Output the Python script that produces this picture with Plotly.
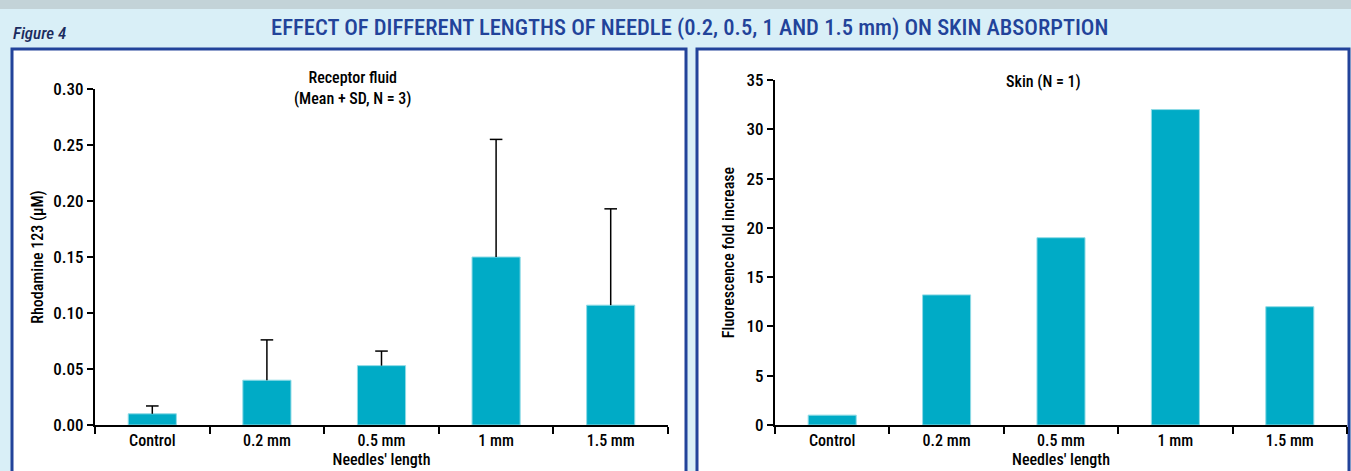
import plotly.graph_objects as go

categories = ["Control", "0.2 mm", "0.5 mm", "1 mm", "1.5 mm"]
receptor_mean = [0.010, 0.040, 0.053, 0.150, 0.107]
receptor_sd = [0.007, 0.036, 0.013, 0.105, 0.086]
skin_fold = [1.0, 13.2, 19.0, 32.0, 12.0]
left_yticks = [0.0, 0.05, 0.10, 0.15, 0.20, 0.25, 0.30]
left_yticklabels = ["0.00", "0.05", "0.10", "0.15", "0.20", "0.25", "0.30"]
right_yticks = [0, 5, 10, 15, 20, 25, 30, 35]

W, H = 1351, 471
BAR = "#00abc6"
NAVY = "#22439a"
FONT = "Roboto Condensed, DejaVu Sans Condensed, sans-serif"

def px(x):
    return x / W

def py(y):
    return 1 - y / H

fig = go.Figure()
fig.add_trace(go.Bar(
    x=categories, y=receptor_mean, width=0.42,
    marker=dict(color=BAR, line=dict(color="#8fdbe6", width=1)),
    xaxis="x", yaxis="y", showlegend=False))

# upward-only SD whiskers (Mean + SD)
wx, wy = [], []
for c, m, s in zip(categories, receptor_mean, receptor_sd):
    wx += [c, c, None]
    wy += [m, m + s, None]
fig.add_trace(go.Scatter(x=wx, y=wy, mode="lines", line=dict(color="black", width=1.5),
                         xaxis="x", yaxis="y", showlegend=False, hoverinfo="skip"))
fig.add_trace(go.Scatter(x=categories, y=[m + s for m, s in zip(receptor_mean, receptor_sd)],
                         mode="markers",
                         marker=dict(symbol="line-ew-open", size=9, color="black",
                                     line=dict(color="black", width=1.5)),
                         xaxis="x", yaxis="y", showlegend=False, hoverinfo="skip"))

fig.add_trace(go.Bar(
    x=categories, y=skin_fold, width=0.42,
    marker=dict(color=BAR, line=dict(color="#8fdbe6", width=1)),
    xaxis="x2", yaxis="y2", showlegend=False))

def xax(domain, anchor):
    return dict(domain=domain, anchor=anchor, automargin=False, tickson="boundaries",
                ticks="outside", ticklen=7, tickwidth=1.5, tickcolor="black", showline=True,
                linecolor="black", linewidth=2, showgrid=False, zeroline=False,
                tickfont=dict(family=FONT, size=16, color="black", weight=500),
                title=dict(text="Needles' length",
                           font=dict(family=FONT, size=16, color="black", weight=500),
                           standoff=5))

def yax(domain, anchor, title, standoff):
    return dict(domain=domain, anchor=anchor, automargin=False, ticks="outside", ticklen=6,
                tickwidth=1.5, tickcolor="black", showline=True, linecolor="black", linewidth=2,
                showgrid=False, zeroline=False,
                tickfont=dict(family=FONT, size=17, color="black", weight=500),
                title=dict(text=title, font=dict(family=FONT, size=16, color="black", weight=500),
                           standoff=standoff))

ya = yax([py(425), py(89)], "x", "Rhodamine 123 (μM)", 6)
ya.update(range=[0, 0.30], tickvals=left_yticks, ticktext=left_yticklabels)
yb = yax([py(425), py(80)], "x2", "Fluorescence fold increase", 8)
yb.update(range=[0, 35], tickvals=right_yticks)

fig.update_layout(
    width=W, height=H,
    margin=dict(l=0, r=0, t=0, b=0, pad=0, autoexpand=False),
    paper_bgcolor="#d9eff7",
    plot_bgcolor="white",
    font=dict(family=FONT, color="black"),
    xaxis=xax([px(95), px(668)], "y"),
    yaxis=ya,
    xaxis2=xax([px(775), px(1347)], "y2"),
    yaxis2=yb,
)

shapes = [
    dict(type="rect", xref="paper", yref="paper", x0=0, x1=1, y0=py(9), y1=1,
         fillcolor="#c3d3d8", line=dict(width=0), layer="below"),
    dict(type="rect", xref="paper", yref="paper", x0=px(12), x1=px(686), y0=py(475), y1=py(49),
         fillcolor="white", line=dict(color=NAVY, width=3), layer="below"),
    dict(type="rect", xref="paper", yref="paper", x0=px(697), x1=px(1349), y0=py(475), y1=py(49),
         fillcolor="white", line=dict(color=NAVY, width=3), layer="below"),
]
fig.update_layout(shapes=shapes)

annotations = [
    dict(text="EFFECT OF DIFFERENT LENGTHS OF NEEDLE (0.2, 0.5, 1 AND 1.5 mm) ON SKIN ABSORPTION",
         x=px(689), y=py(28), xref="paper", yref="paper", showarrow=False,
         font=dict(family=FONT, size=22.6, color=NAVY, weight=500), xanchor="center", yanchor="middle"),
    dict(text="<i>Figure 4</i>", x=px(11), y=py(33), xref="paper", yref="paper", showarrow=False,
         font=dict(family=FONT, size=17, color="#1b2b5e", weight=500), xanchor="left", yanchor="middle"),
    dict(text="Receptor fluid<br>(Mean + SD, N = 3)", x=px(353), y=py(88), xref="paper", yref="paper",
         showarrow=False, font=dict(family=FONT, size=16, color="black", weight=500), xanchor="center",
         yanchor="middle", align="center"),
    dict(text="Skin (N = 1)", x=px(1043), y=py(82), xref="paper", yref="paper",
         showarrow=False, font=dict(family=FONT, size=16, color="black", weight=500), xanchor="center",
         yanchor="middle"),
]
fig.update_layout(annotations=annotations)

fig.write_html("out.html", config=dict(displayModeBar=False),
               post_script="document.body.style.margin='0';")
